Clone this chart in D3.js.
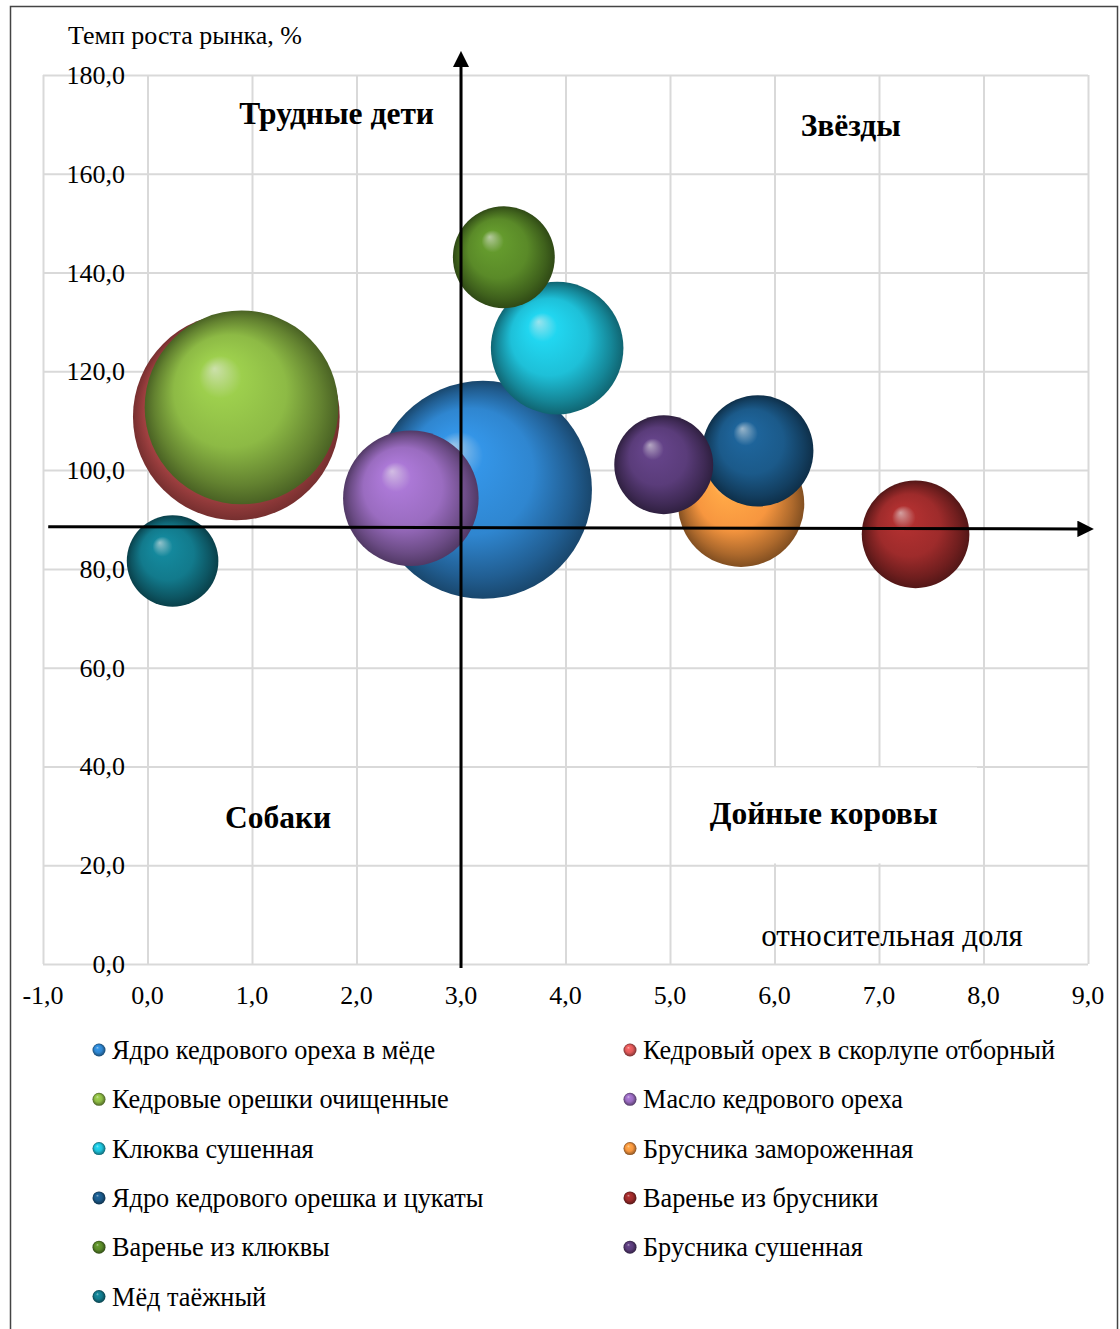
<!DOCTYPE html>
<meta charset="utf-8">
<script src="https://d3js.org/d3.v7.min.js"></script>
<style>
  body { margin: 0; background: #fff; }
  text { font-family: "Liberation Serif", "Times New Roman", serif; fill: #000; }
</style>
<div id="chart"></div>
<script>

// series data
var names = [
  "Ядро кедрового ореха в мёде",
  "Кедровый орех в скорлупе отборный",
  "Кедровые орешки очищенные",
  "Масло кедрового ореха",
  "Клюква сушенная",
  "Брусника замороженная",
  "Ядро кедрового орешка и цукаты",
  "Варенье из брусники",
  "Варенье из клюквы",
  "Брусника сушенная",
  "Мёд таёжный"
];
var shareVals  = [3.21, 0.85, 0.90, 2.52, 3.92, 5.68, 5.84, 7.35, 3.41, 4.94, 0.24];
var growthVals = [96.0, 110.8, 112.7, 94.3, 124.7, 93.2, 103.9, 87.0, 143.1, 101.1, 81.6];
var sizeVals   = [119, 107, 94, 46, 44, 40, 31, 29, 26, 24.5, 21];
var colors = ["#2f86d0", "#e05a5a", "#8dba45", "#9a6cc0", "#1ec0d8", "#f7963f",
              "#1b5a8a", "#9e2b2b", "#5a8a28", "#5a3c7a", "#127a8c"];

var xTicks = [-1, 0, 1, 2, 3, 4, 5, 6, 7, 8, 9];
var yTicks = [0, 20, 40, 60, 80, 100, 120, 140, 160, 180];

// quadrant captions
var quadLabels = ["Трудные дети", "Звёзды", "Собаки", "Дойные коровы"];
var quadX = [1.81, 6.73, 1.25, 6.47];
var quadY = [170.0, 167.7, 27.5, 28.3];

// BCG split lines
var splitX = 3.0, splitY0 = 88.55, splitY1 = 88.1;

var W = 1120, H = 1329;
var svg = d3.select("#chart").append("svg")
    .attr("width", W)
    .attr("height", H);

var x = d3.scaleLinear().domain([-1, 9]).range([43, 1088]);
var y = d3.scaleLinear().domain([0, 180]).range([964, 75]);
var r = d3.scaleSqrt().domain([0, 119]).range([0, 109]);

var fmt = function(d) { return d3.format(".1f")(d).replace(".", ",").replace("\u2212", "-"); };

// outer frame
svg.append("rect")
    .attr("x", 10.5).attr("y", 6.5)
    .attr("width", 1107).attr("height", 1340)
    .attr("fill", "none")
    .attr("stroke", "#444")
    .attr("stroke-width", 1.5);

// gridlines
svg.append("g")
    .attr("transform", "translate(0," + y(0) + ")")
    .call(d3.axisBottom(x).tickValues(xTicks).tickSize(-(y(0) - y(180))).tickFormat(""))
    .call(function(g) { g.select(".domain").remove(); })
    .selectAll("line").attr("stroke", "#d9d9d9").attr("stroke-width", 2);

svg.append("g")
    .attr("transform", "translate(" + x(-1) + ",0)")
    .call(d3.axisLeft(y).tickValues(yTicks).tickSize(-(x(9) - x(-1))).tickFormat(""))
    .call(function(g) { g.select(".domain").remove(); })
    .selectAll("line").attr("stroke", "#d9d9d9").attr("stroke-width", 2);

// white patch behind the "cash cows" caption
svg.append("rect")
    .attr("x", 672).attr("y", y(40) + 1)
    .attr("width", 305).attr("height", 96)
    .attr("fill", "#fff");

// tick labels
svg.append("g").selectAll("text")
  .data(yTicks)
  .enter().append("text")
    .attr("x", 125)
    .attr("y", function(d) { return y(d) + 9; })
    .attr("text-anchor", "end")
    .style("font-size", "26px")
    .text(fmt);

svg.append("g").selectAll("text")
  .data(xTicks)
  .enter().append("text")
    .attr("x", function(d) { return x(d); })
    .attr("y", 1004)
    .attr("text-anchor", "middle")
    .style("font-size", "26px")
    .text(fmt);

// axis titles
svg.append("text")
    .attr("x", 68).attr("y", 44)
    .style("font-size", "26px")
    .text("Темп роста рынка, %");

svg.append("text")
    .attr("x", 892).attr("y", 946)
    .attr("text-anchor", "middle")
    .style("font-size", "31px")
    .text("относительная доля");

// sphere gradients
var defs = svg.append("defs");
colors.forEach(function(c, i) {
  var g = defs.append("radialGradient")
      .attr("id", "sph" + i)
      .attr("cx", "0.5").attr("cy", "0.5").attr("r", "0.5")
      .attr("fx", "0.36").attr("fy", "0.3");
  var base = d3.color(c);
  g.append("stop").attr("offset", "0%").attr("stop-color", d3.interpolateRgb(c, "#fff")(0.55));
  g.append("stop").attr("offset", "22%").attr("stop-color", base.brighter(0.3));
  g.append("stop").attr("offset", "58%").attr("stop-color", base);
  g.append("stop").attr("offset", "86%").attr("stop-color", base.darker(1.0));
  g.append("stop").attr("offset", "100%").attr("stop-color", base.darker(1.8));
});

// bubbles
var bubbles = names.map(function(n, i) {
  return { name: n, x: shareVals[i], y: growthVals[i], s: sizeVals[i], i: i };
});

svg.append("g").selectAll("circle")
  .data(bubbles)
  .enter().append("circle")
    .attr("cx", function(d) { return x(d.x); })
    .attr("cy", function(d) { return y(d.y); })
    .attr("r", function(d) { return r(d.s); })
    .attr("fill", function(d) { return "url(#sph" + d.i + ")"; });

// quadrant captions
svg.append("g").selectAll("text")
  .data(quadLabels)
  .enter().append("text")
    .attr("x", function(d, i) { return x(quadX[i]); })
    .attr("y", function(d, i) { return y(quadY[i]); })
    .attr("text-anchor", "middle")
    .style("font-size", "31.5px")
    .style("font-weight", "bold")
    .text(function(d) { return d; });

// arrows
defs.append("marker")
    .attr("id", "arrow")
    .attr("viewBox", "0 0 10 10")
    .attr("refX", 2).attr("refY", 5)
    .attr("markerWidth", 5.5).attr("markerHeight", 5.5)
    .attr("orient", "auto")
  .append("path")
    .attr("d", "M0,0L10,5L0,10z")
    .attr("fill", "#000");

svg.append("line")
    .attr("x1", x(splitX)).attr("y1", y(-0.8))
    .attr("x2", x(splitX)).attr("y2", y(182.2))
    .attr("stroke", "#000").attr("stroke-width", 3)
    .attr("marker-end", "url(#arrow)");

svg.append("line")
    .attr("x1", x(-0.95)).attr("y1", y(splitY0))
    .attr("x2", x(8.93)).attr("y2", y(splitY1))
    .attr("stroke", "#000").attr("stroke-width", 3)
    .attr("marker-end", "url(#arrow)");

// legend
var leg = svg.append("g").selectAll("g")
  .data(bubbles)
  .enter().append("g")
    .attr("transform", function(d, i) {
      var col = i % 2, row = Math.floor(i / 2);
      return "translate(" + (col ? 630 : 99) + "," + (1050 + row * 49.3) + ")";
    });

leg.append("circle")
    .attr("r", 6.5)
    .attr("fill", function(d) { return "url(#sph" + d.i + ")"; });

leg.append("text")
    .attr("x", 13).attr("y", 9)
    .style("font-size", "26.3px")
    .text(function(d) { return d.name; });

</script>
